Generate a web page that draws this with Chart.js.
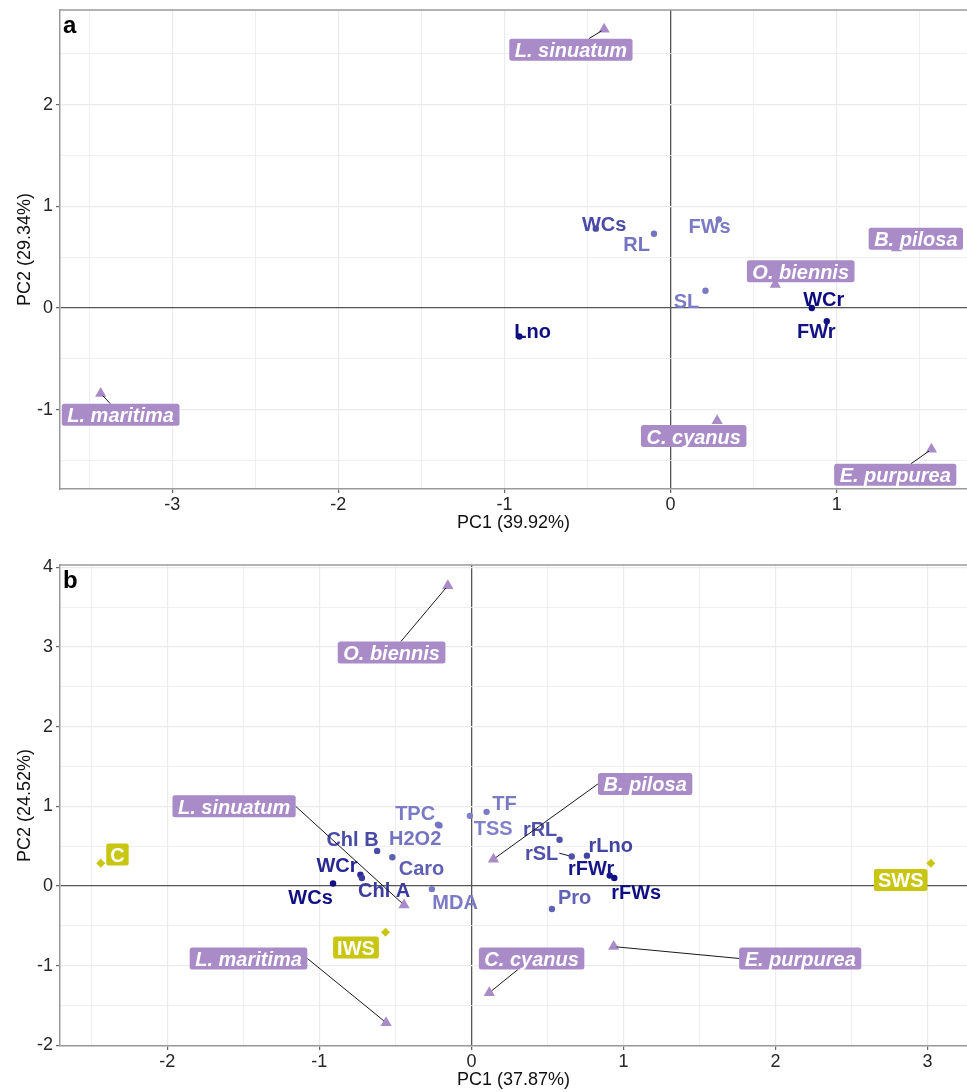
<!DOCTYPE html>
<html>
<head>
<meta charset="utf-8">
<script src="https://cdn.jsdelivr.net/npm/chart.js@4.4.1/dist/chart.umd.min.js"></script>
<style>
  html, body { margin: 0; padding: 0; background: #fff; }
  #wrap { position: relative; width: 967px; height: 1092px; }
  canvas { position: absolute; left: 0; }
</style>
</head>
<body>
<div id="wrap">
  <canvas id="pa" width="967" height="540" style="top:0"></canvas>
  <canvas id="pb" width="967" height="552" style="top:540px"></canvas>
</div>
<script>
// ---------- panel a ----------
const aVarNames   = ['WCs', 'RL', 'FWs', 'SL', 'WCr', 'FWr', 'Lno'];
const aVarX       = [-0.45, -0.10, 0.29, 0.21, 0.85, 0.94, -0.91];
const aVarY       = [0.78, 0.73, 0.87, 0.17, 0.00, -0.13, -0.28];
const aVarContrib = [0.55, 0.25, 0.2, 0.2, 1.0, 0.95, 0.98];
const aVarLabX    = [-0.40, -0.205, 0.235, 0.096, 0.922, 0.877, -0.831];
const aVarLabY    = [0.83, 0.63, 0.81, 0.07, 0.09, -0.23, -0.23];

const aSpNames = ['L. sinuatum', 'B. pilosa', 'O. biennis', 'L. maritima', 'C. cyanus', 'E. purpurea'];
const aSpX     = [-0.40, 1.36, 0.63, -3.43, 0.28, 1.57];
const aSpY     = [2.74, 0.59, 0.23, -0.84, -1.11, -1.39];
const aSpLabX  = [-0.60, 1.476, 0.783, -3.31, 0.139, 1.352];
const aSpLabY  = [2.54, 0.68, 0.36, -1.05, -1.26, -1.64];

// ---------- panel b ----------
const bVarNames   = ['TPC', 'H2O2', 'Chl B', 'Caro', 'TSS', 'TF', 'MDA', 'WCr', 'Chl A', 'WCs',
                     'rRL', 'rSL', 'rLno', 'rFWr', 'rFWs', 'Pro'];
const bVarX       = [-0.22, -0.21, -0.62, -0.52, -0.01, 0.10, -0.26, -0.73, -0.72, -0.91,
                     0.58, 0.66, 0.76, 0.91, 0.94, 0.53];
const bVarY       = [0.77, 0.76, 0.44, 0.36, 0.88, 0.93, -0.04, 0.14, 0.10, 0.03,
                     0.58, 0.37, 0.38, 0.13, 0.10, -0.29];
const bVarContrib = [0.2, 0.25, 0.55, 0.4, 0.15, 0.2, 0.2, 0.8, 0.65, 0.97,
                     0.5, 0.5, 0.6, 0.92, 0.97, 0.38];
const bVarLabX    = [-0.370, -0.370, -0.782, -0.328, 0.143, 0.218, -0.107, -0.884, -0.574, -1.058,
                     0.452, 0.462, 0.916, 0.788, 1.084, 0.679];
const bVarLabY    = [0.917, 0.603, 0.584, 0.226, 0.725, 1.046, -0.201, 0.264, -0.05, -0.134,
                     0.716, 0.411, 0.515, 0.222, -0.071, -0.138];

const bSpNames = ['O. biennis', 'L. sinuatum', 'B. pilosa', 'L. maritima', 'C. cyanus', 'E. purpurea'];
const bSpX     = [-0.155, -0.443, 0.145, -0.561, 0.118, 0.936];
const bSpY     = [3.77, -0.239, 0.335, -1.717, -1.34, -0.762];
const bSpLabX  = [-0.525, -1.561, 1.143, -1.466, 0.396, 2.163];
const bSpLabY  = [2.93, 1.0, 1.281, -0.911, -0.911, -0.911];

const bTrtNames = ['C', 'IWS', 'SWS'];
const bTrtX     = [-2.438, -0.565, 3.022];
const bTrtY     = [0.285, -0.582, 0.285];
const bTrtLabX  = [-2.328, -0.759, 2.824];
const bTrtLabY  = [0.396, -0.773, 0.075];

const FONT = '"Liberation Sans", Arial, Helvetica, sans-serif';
const PURPLE = '#a98bc8';
const YELLOW = '#c9c612';

// contribution -> colour (light lavender to navy)
function contribColor(c) {
  const lo = [150, 150, 214], hi = [12, 12, 128];
  const m = lo.map((v, i) => Math.round(v + (hi[i] - v) * c));
  return 'rgb(' + m.join(',') + ')';
}

function pts(xs, ys) {
  return xs.map((x, i) => ({x: x, y: ys[i]}));
}

// draws repelled labels: variable text, segments, then boxes
const labelPlugin = {
  id: 'biplotLabels',
  afterDatasetsDraw(chart) {
    const {ctx, chartArea: ca, scales: {x, y}} = chart;
    const g = chart.options.plugins.biplotLabels;
    ctx.save();
    ctx.beginPath();
    ctx.rect(ca.left, ca.top, ca.right - ca.left, ca.bottom - ca.top);
    ctx.clip();

    const items = [];
    // variable text
    ctx.font = 'bold 20px ' + FONT;
    ctx.textAlign = 'center';
    ctx.textBaseline = 'alphabetic';
    g.vars.names.forEach((n, i) => {
      const cx = x.getPixelForValue(g.vars.labX[i]);
      const cy = y.getPixelForValue(g.vars.labY[i]);
      const w = ctx.measureText(n).width;
      ctx.fillStyle = contribColor(g.vars.contrib[i]);
      ctx.fillText(n, cx, cy + 7);
      items.push({px: x.getPixelForValue(g.vars.x[i]), py: y.getPixelForValue(g.vars.y[i]),
        box: {l: cx - w / 2 - 1, r: cx + w / 2 + 1, t: cy - 8, b: cy + 8, cx: cx, cy: cy}, min: 11});
    });

    // boxed labels
    const boxed = [];
    const addBoxed = (grp, fill, fontStr, pad, minSeg) => {
      if (!grp) return;
      ctx.font = fontStr;
      grp.names.forEach((n, i) => {
        const cx = x.getPixelForValue(grp.labX[i]);
        const cy = y.getPixelForValue(grp.labY[i]);
        const w = ctx.measureText(n).width + 2 * pad;
        const box = {l: cx - w / 2, r: cx + w / 2, t: cy - 11, b: cy + 11, cx: cx, cy: cy};
        boxed.push({n: n, box: box, fill: fill, font: fontStr});
        items.push({px: x.getPixelForValue(grp.x[i]), py: y.getPixelForValue(grp.y[i]), box: box, min: minSeg});
      });
    };
    addBoxed(g.species, PURPLE, 'italic bold 20px ' + FONT, 5.5, 8);
    addBoxed(g.treat, YELLOW, 'bold 20px ' + FONT, 4, 12);

    // segments
    ctx.strokeStyle = '#1a1a1a';
    ctx.lineWidth = 1;
    items.forEach(it => {
      const b = it.box;
      const nx = Math.min(Math.max(it.px, b.l), b.r);
      const ny = Math.min(Math.max(it.py, b.t), b.b);
      if (Math.hypot(it.px - nx, it.py - ny) < it.min) return;
      let sx, sy;
      if (it.px < b.l - 4 || it.px > b.r + 4) {
        sx = it.px < b.l ? b.l : b.r;
        sy = b.cy;
      } else {
        sy = it.py < b.cy ? b.t : b.b;
        sx = b.cx + (it.px - b.cx) * (sy - b.cy) / (it.py - b.cy);
      }
      const d = Math.hypot(it.px - sx, it.py - sy);
      const ex = it.px - (it.px - sx) * 3 / d;
      const ey = it.py - (it.py - sy) * 3 / d;
      ctx.beginPath();
      ctx.moveTo(sx, sy);
      ctx.lineTo(ex, ey);
      ctx.stroke();
    });

    boxed.forEach(bx => {
      const b = bx.box;
      ctx.fillStyle = bx.fill;
      ctx.beginPath();
      ctx.roundRect(b.l, b.t, b.r - b.l, b.b - b.t, 2.5);
      ctx.fill();
      ctx.font = bx.font;
      ctx.fillStyle = '#ffffff';
      ctx.fillText(bx.n, b.cx, b.cy + 7.5);
    });
    ctx.restore();

    // top border and panel letter
    ctx.save();
    ctx.strokeStyle = '#9a9a9a';
    ctx.lineWidth = 1.5;
    ctx.beginPath();
    ctx.moveTo(ca.left, ca.top);
    ctx.lineTo(ca.right, ca.top);
    ctx.stroke();
    ctx.font = 'bold 24px ' + FONT;
    ctx.fillStyle = '#000';
    ctx.textAlign = 'left';
    ctx.fillText(g.letter, ca.left + 3, ca.top + 23);
    ctx.restore();
  }
};

function axis(min, max, title, titlePad, fitSize, horizontal) {
  return {
    type: 'linear',
    min: min,
    max: max,
    border: {display: true, color: '#9a9a9a', width: 1.5},
    grid: {
      color: c => c.tick && c.tick.value === 0 ? '#555555' : '#ebebeb',
      lineWidth: c => c.tick && c.tick.value === 0 ? 1.3 : (c.tick && Number.isInteger(c.tick.value) ? 1.2 : 0.8),
      tickColor: c => c.tick && Number.isInteger(c.tick.value) ? '#666666' : 'rgba(0,0,0,0)',
      tickLength: 4
    },
    ticks: {
      stepSize: 0.5,
      includeBounds: false,
      autoSkip: false,
      maxRotation: 0,
      padding: 3,
      color: '#262626',
      font: {family: FONT, size: 18, lineHeight: 1},
      callback: v => Number.isInteger(v) ? String(v) : ''
    },
    title: {
      display: true,
      text: title,
      color: '#111111',
      font: {family: FONT, size: 18},
      padding: titlePad
    },
    afterFit: s => {
      if (horizontal) { s.height = fitSize; s.paddingLeft = 0; s.paddingRight = 0; }
      else { s.width = fitSize; s.paddingTop = 0; s.paddingBottom = 0; }
    }
  };
}

function makeBiplot(id, cfg) {
  const datasets = [
    {
      label: 'variables',
      data: pts(cfg.vars.x, cfg.vars.y),
      pointStyle: 'circle',
      pointRadius: 3.2,
      pointBorderWidth: 0,
      pointBackgroundColor: cfg.vars.contrib.map(contribColor)
    },
    {
      label: 'species',
      data: pts(cfg.species.x, cfg.species.y),
      pointStyle: 'triangle',
      pointRadius: 6.5,
      pointBorderWidth: 0,
      pointBackgroundColor: PURPLE
    }
  ];
  if (cfg.treat) {
    datasets.push({
      label: 'treatments',
      data: pts(cfg.treat.x, cfg.treat.y),
      pointStyle: 'rectRot',
      pointRadius: 4.5,
      pointBorderWidth: 0,
      pointBackgroundColor: YELLOW
    });
  }
  return new Chart(document.getElementById(id), {
    type: 'scatter',
    data: {datasets: datasets},
    options: {
      responsive: false,
      animation: false,
      devicePixelRatio: 1,
      events: [],
      layout: {autoPadding: false, padding: {top: cfg.padTop, right: 0, left: 0, bottom: 0}},
      plugins: {
        legend: {display: false},
        tooltip: {enabled: false},
        biplotLabels: {letter: cfg.letter, vars: cfg.vars, species: cfg.species, treat: cfg.treat}
      },
      scales: {
        x: axis(cfg.xr[0], cfg.xr[1], cfg.xTitle, {top: 0, bottom: cfg.xTitlePad}, cfg.xFit, true),
        y: axis(cfg.yr[0], cfg.yr[1], cfg.yTitle, {top: 14, bottom: 0}, 60, false)
      }
    },
    plugins: [labelPlugin]
  });
}

makeBiplot('pa', {
  letter: 'a',
  padTop: 10,
  xr: [-3.675, 1.784], yr: [-1.78, 2.93],
  xTitle: 'PC1 (39.92%)', yTitle: 'PC2 (29.34%)',
  xTitlePad: 6, xFit: 51,
  vars: {names: aVarNames, x: aVarX, y: aVarY, contrib: aVarContrib, labX: aVarLabX, labY: aVarLabY},
  species: {names: aSpNames, x: aSpX, y: aSpY, labX: aSpLabX, labY: aSpLabY},
  treat: null
});

makeBiplot('pb', {
  letter: 'b',
  padTop: 25,
  xr: [-2.706, 3.26], yr: [-2.01, 4.03],
  xTitle: 'PC1 (37.87%)', yTitle: 'PC2 (24.52%)',
  xTitlePad: 1, xFit: 46,
  vars: {names: bVarNames, x: bVarX, y: bVarY, contrib: bVarContrib, labX: bVarLabX, labY: bVarLabY},
  species: {names: bSpNames, x: bSpX, y: bSpY, labX: bSpLabX, labY: bSpLabY},
  treat: {names: bTrtNames, x: bTrtX, y: bTrtY, labX: bTrtLabX, labY: bTrtLabY}
});
</script>
</body>
</html>
